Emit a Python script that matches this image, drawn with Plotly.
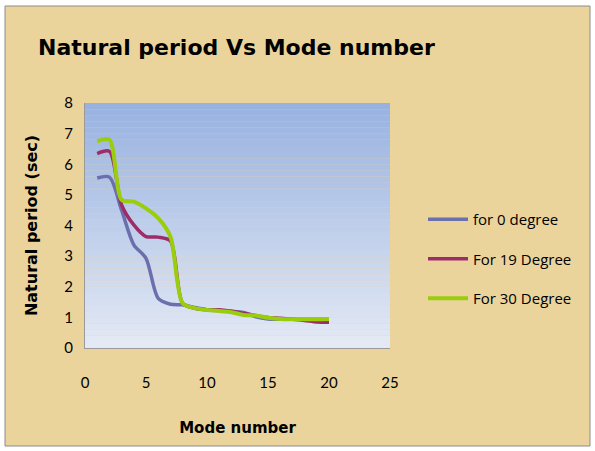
import plotly.graph_objects as go

modes = list(range(1, 21))
deg0 = [5.55, 5.58, 4.5, 3.37, 2.93, 1.62, 1.43, 1.41, 1.32, 1.25, 1.22, 1.2, 1.16, 1.02, 0.95, 0.94, 0.94, 0.94, 0.94, 0.94]
deg19 = [6.35, 6.42, 4.67, 4.02, 3.64, 3.62, 3.5, 1.46, 1.3, 1.25, 1.25, 1.2, 1.13, 1.06, 1.0, 0.97, 0.94, 0.9, 0.85, 0.84]
deg30 = [6.75, 6.8, 4.84, 4.78, 4.56, 4.24, 3.64, 1.46, 1.3, 1.24, 1.21, 1.17, 1.08, 1.06, 0.99, 0.95, 0.94, 0.94, 0.94, 0.95]
series_names = ["for 0 degree", "For 19 Degree", "For 30 Degree"]
series_colors = ["#6B6FAD", "#9C2D68", "#9ACD0E"]
x_ticks = [0, 5, 10, 15, 20, 25]
y_ticks = [0, 1, 2, 3, 4, 5, 6, 7, 8]

W, H = 595, 451
L, R, T, B = 85, 205, 103, 103

fig = go.Figure()
for i, (vals, name, col, w) in enumerate(zip([deg0, deg19, deg30], series_names, series_colors, [3.5, 3.5, 4])):
    fig.add_trace(go.Scatter(x=modes, y=vals, mode="lines", name=name, legendgroup="g%d" % i,
                             line=dict(color=col, width=w, shape="spline", smoothing=0.8)))

shapes = []
n = 40
top = (152, 178, 224)
bot = (228, 233, 245)
for i in range(n):
    t = i / (n - 1)
    c = tuple(int(round(top[k] + (bot[k] - top[k]) * t)) for k in range(3))
    shapes.append(dict(type="rect", xref="x domain", yref="y domain",
                       x0=0, x1=1, y0=1 - (i + 1) / n, y1=1 - i / n,
                       fillcolor="rgb(%d,%d,%d)" % c, line=dict(width=0), layer="below"))
pw = W - L - R
ph = H - T - B
def px(xp):
    return (xp - L) / pw
def py(yp):
    return 1 - (yp - T) / ph
shapes.insert(0, dict(type="rect", xref="paper", yref="paper",
                      x0=px(5), x1=px(590), y0=py(446), y1=py(6),
                      fillcolor="#EAD49C", line=dict(color="#8C8C8C", width=1), layer="below"))

fig.update_layout(
    width=W, height=H,
    margin=dict(l=L, r=R, t=T, b=B, autoexpand=False),
    paper_bgcolor="white",
    plot_bgcolor="rgba(0,0,0,0)",
    shapes=shapes,
    title=dict(text="<b>Natural period Vs Mode number</b>", x=38 / W, xanchor="left",
               y=1 - 47 / H, yanchor="middle",
               font=dict(family="DejaVu Sans", size=22, color="black")),
    font=dict(family="Lato", color="black"),
    legend=dict(x=px(423), y=py(203), xanchor="left", yanchor="top",
                font=dict(family="Open Sans", size=15, color="black"), bgcolor="rgba(0,0,0,0)",
                tracegroupgap=17, itemwidth=40, traceorder="grouped"),
    showlegend=True,
)
fig.update_xaxes(range=[0, 25], tickvals=x_ticks, showgrid=False, zeroline=False, automargin=False,
                 showline=True, linecolor="#9A9A9A", linewidth=1,
                 ticks="outside", ticklen=21, tickcolor="rgba(0,0,0,0)",
                 tickfont=dict(size=15, color="black"),
                 title=dict(text="<b>Mode number</b>", font=dict(family="DejaVu Sans", size=15, color="black"), standoff=32))
fig.update_yaxes(range=[0, 8], tickvals=y_ticks, showgrid=False, zeroline=False, automargin=False,
                 showline=True, linecolor="#9A9A9A", linewidth=1,
                 ticks="outside", ticklen=8, tickcolor="rgba(0,0,0,0)",
                 tickfont=dict(size=15, color="black"),
                 title=dict(text="<b>Natural period (sec)</b>", font=dict(family="DejaVu Sans", size=16, color="black"), standoff=22))

fig.write_html("out.html", config={"displayModeBar": False},
               post_script="document.body.style.margin='0';")
